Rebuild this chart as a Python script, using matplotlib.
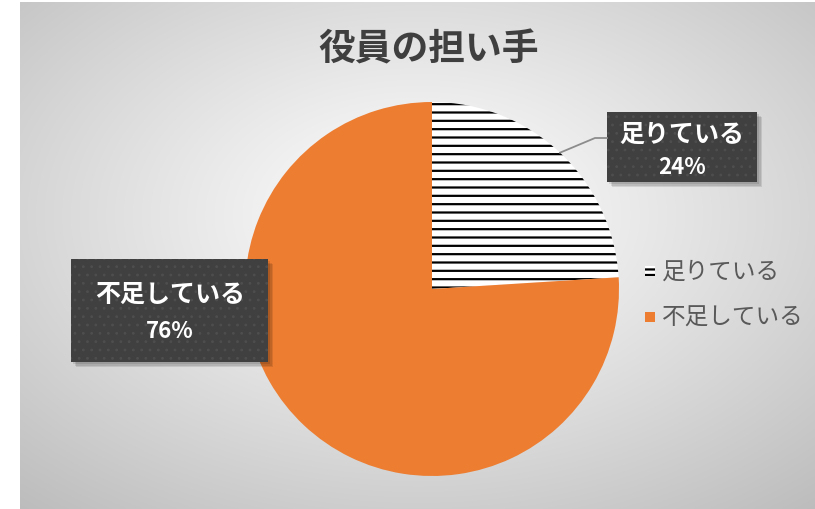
import numpy as np
import matplotlib
matplotlib.use("Agg")
import matplotlib.pyplot as plt
from matplotlib.patches import Rectangle

plt.rcParams['font.family'] = ['Noto Sans CJK JP', 'DejaVu Sans']
plt.rcParams['hatch.linewidth'] = 1.6

title = "役員の担い手"
categories = ["足りている", "不足している"]
values = [24, 76]

W, H = 815, 510
fig = plt.figure(figsize=(W / 100, H / 100), dpi=100)
fig.patch.set_facecolor('white')

def fx(x):
    return x / W

def fy(y):
    return 1 - y / H

# background radial gradient
bx0, by0 = 20, 3
bg = fig.add_axes([fx(bx0), 0, 1 - fx(bx0), 1 - by0 / H])
bw, bh = W - bx0, H - by0
yy, xx = np.mgrid[0:bh, 0:bw]
cx, cy = bw * 0.5, bh * 0.42
r = np.sqrt(((xx - cx) / (bw / 2)) ** 2 + ((yy - cy) / (bh / 2)) ** 2) / np.sqrt(2)
v = np.clip(1 - 0.24 * r ** 1.1, 0, 1)
img = np.dstack([v, v, v])
bg.imshow(img, aspect='auto', extent=[0, bw, bh, 0], interpolation='bilinear')
bg.set_axis_off()

# title
fig.text(fx(429), fy(50), title, ha='center', va='center', fontsize=26.5,
         fontweight='bold', color='#3f3f3f')

# pie
pcx, pcy, pr = 432, 290, 187
ax = fig.add_axes([fx(pcx - pr), fy(pcy + pr), 2 * pr / W, 2 * pr / H])
wedges, _ = ax.pie(values, startangle=90, counterclock=False, radius=1,
                   colors=['white', '#ED7D31'],
                   wedgeprops=dict(linewidth=0))
wedges[0].set_hatch('--')
wedges[0].set_edgecolor('black')
wedges[0].set_linewidth(0)
ax.set_xlim(-1, 1)
ax.set_ylim(-1, 1)
ax.set_aspect('equal')
ax.set_axis_off()

# leader line for first slice
ang = np.deg2rad(90 - values[0] / sum(values) * 360 / 2)
px0, py0 = pcx + pr * np.cos(ang), pcy - pr * np.sin(ang)
fig.add_artist(plt.Line2D([fx(px0), fx(595), fx(607)], [fy(py0), fy(139), fy(139)],
                          color='#8c8c8c', lw=1.3, transform=fig.transFigure))

# legend
lg_items = [(272, 'white', '---'), (318, '#ED7D31', None)]
for (ly, col, hat), name in zip(lg_items, categories):
    s = 10
    rect = Rectangle((fx(645), fy(ly + s / 2)), s / W, s / H, transform=fig.transFigure,
                     facecolor=col, edgecolor='black' if hat else col,
                     hatch=hat, linewidth=0)
    fig.add_artist(rect)
    fig.text(fx(662), fy(ly), name, ha='left', va='center', fontsize=17,
             color='#595959')

plt.rcParams['hatch.linewidth'] = 0.8

def label_box(x0, y0, x1, y1, name, val, cxp, y_name, y_val):
    # shadow
    for i, a in enumerate([0.10, 0.10, 0.10]):
        off = 2 + i * 1.5
        fig.add_artist(Rectangle((fx(x0 + off), fy(y1 + off)), (x1 - x0) / W, (y1 - y0) / H,
                                 transform=fig.transFigure, facecolor='black',
                                 alpha=a, linewidth=0))
    fig.add_artist(Rectangle((fx(x0), fy(y1)), (x1 - x0) / W, (y1 - y0) / H,
                             transform=fig.transFigure, facecolor='#404040',
                             linewidth=0))
    fig.add_artist(Rectangle((fx(x0), fy(y1)), (x1 - x0) / W, (y1 - y0) / H,
                             transform=fig.transFigure, facecolor='none',
                             edgecolor='#4e4e4e', hatch='..', linewidth=0))
    fig.text(fx(cxp), fy(y_name), name, ha='center', va='center', fontsize=18,
             fontweight='bold', color='white')
    fig.text(fx(cxp), fy(y_val), f"{val}%", ha='center', va='center', fontsize=16,
             fontweight='bold', color='white')

label_box(607, 113, 757, 183, categories[0], values[0], 682, 135, 168)
label_box(71, 260, 268, 363, categories[1], values[1], 170, 295, 332)

fig.savefig('out.png', dpi=100)
